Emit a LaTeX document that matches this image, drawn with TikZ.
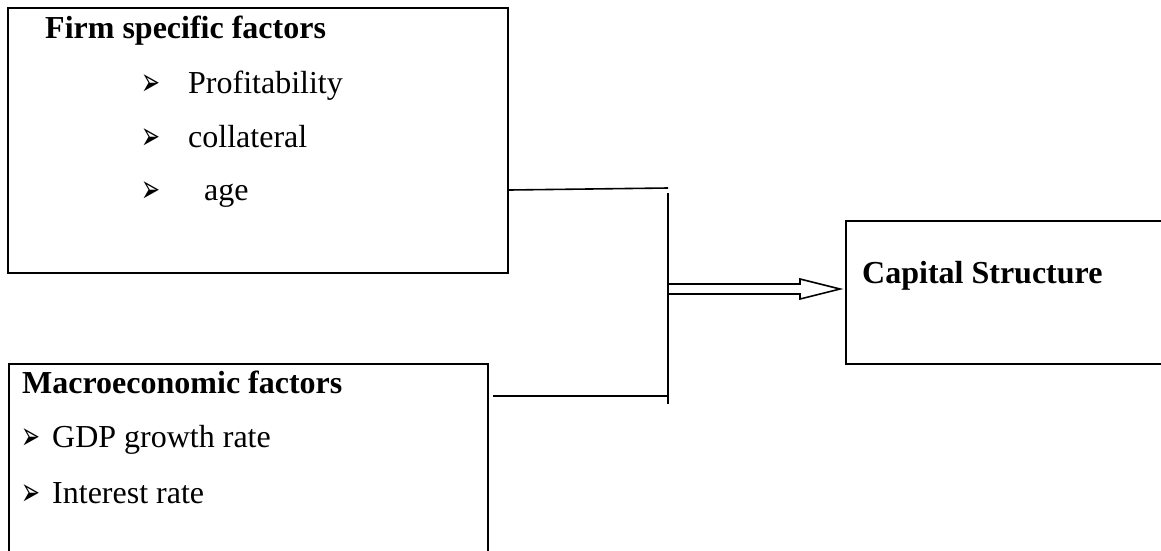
\documentclass[tikz,border=0pt]{standalone}
\usepackage{fontspec}
\setmainfont{Liberation Serif}
\newfontfamily\dvfont{DejaVu Sans}
\usetikzlibrary{calc}
\newcommand{\arrbul}{\scalebox{0.78}[1.35]{\dvfont\fontsize{29}{34}\selectfont ➢}}
\tikzset{
  box/.style={draw=black, line width=2pt, inner sep=0pt},
  conn/.style={draw=black, line width=1.6pt},
  txt/.style={anchor=base west, inner sep=0pt, font=\fontsize{32}{38}\selectfont},
  btxt/.style={txt, font=\fontsize{32}{38}\selectfont\bfseries},
  bul/.style={anchor=base west, inner sep=0pt}
}
\begin{document}
\begin{tikzpicture}[x=1pt,y=-1pt]
\clip (0,0) rectangle (1161,550);
% boxes
\node[box, minimum width=500pt, minimum height=265pt, anchor=north west] (firm) at (7,7) {};
\node[box, minimum width=479pt, minimum height=200pt, anchor=north west] (macro) at (8,363) {};
\node[box, minimum width=330pt, minimum height=143pt, anchor=north west] (cap) at (845,220) {};
% texts
\node[btxt] (t1) at (45,38) {Firm specific factors};
\node[bul] (b1) at (141,95) {\arrbul};
\node[txt] (p1) at (188,93) {Profitability};
\node[bul] (b2) at (141,149) {\arrbul};
\node[txt] (p2) at (188,147) {collateral};
\node[bul] (b3) at (141,202) {\arrbul};
\node[txt] (p3) at (204,200) {age};
\node[btxt] (t2) at (22,393) {Macroeconomic factors};
\node[bul] (b4) at (21,449) {\arrbul};
\node[txt] (m1) at (52,447) {GDP growth rate};
\node[bul] (b5) at (21,505) {\arrbul};
\node[txt] (m2) at (52,503) {Interest rate};
\node[btxt] (t3) at (862,283) {Capital Structure};
% connectors
\coordinate (a1) at (507,190);
\coordinate (j1) at (668,188);
\coordinate (jt) at (668,193);
\coordinate (jb) at (668,404);
\coordinate (a2) at (493,396);
\coordinate (j2) at (668,396);
\coordinate (tip) at (cap.west |- 0,289);
\draw[conn] (firm.east |- a1) -- (j1);
\draw[conn] (jt) -- (jb);
\draw[conn] (a2) -- (j2);
\draw[conn, line join=miter] (668,284) -- ($(tip)+(-45,-5)$) -- ($(tip)+(-45,-10)$) -- ($(tip)+(-5,0)$) -- ($(tip)+(-45,10)$) -- ($(tip)+(-45,5)$) -- (668,294);
\end{tikzpicture}
\end{document}
